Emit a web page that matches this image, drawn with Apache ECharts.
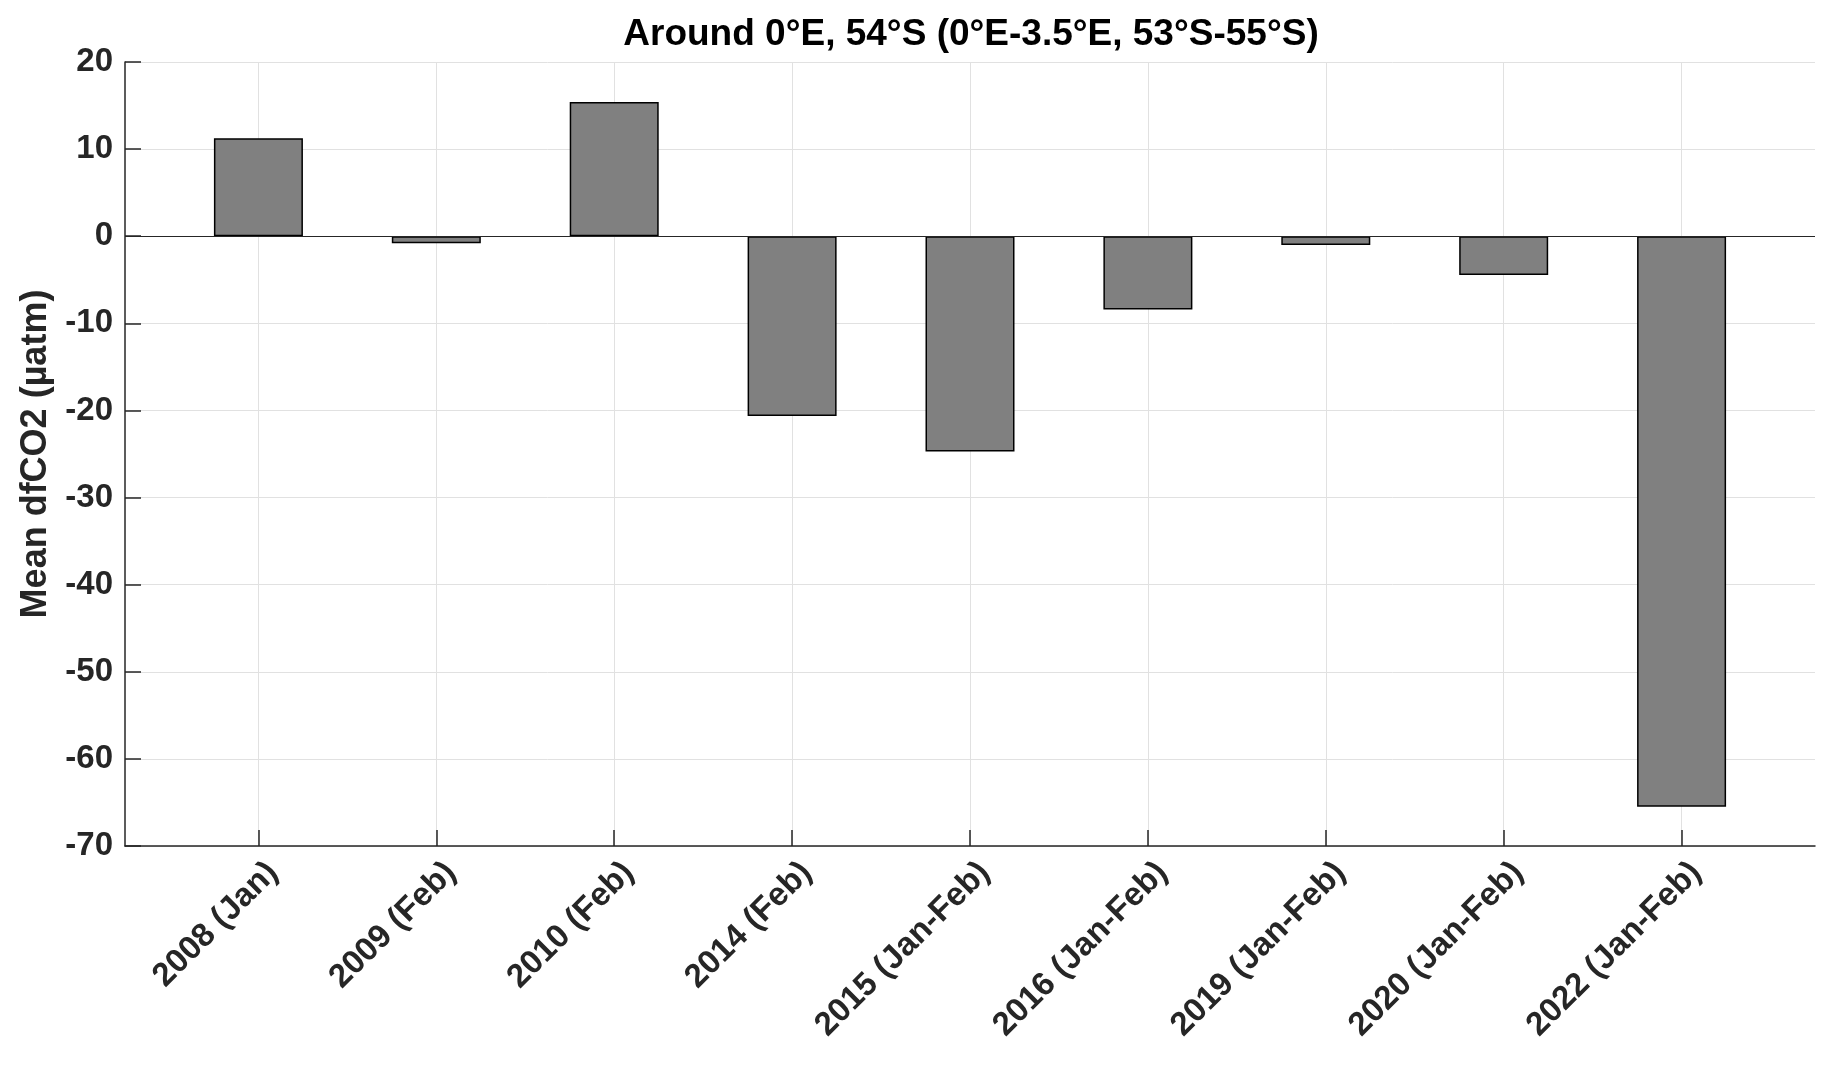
<!DOCTYPE html>
<html>
<head>
<meta charset="utf-8">
<script src="https://cdn.jsdelivr.net/npm/echarts@6/dist/echarts.min.js"></script>
<style>html,body{margin:0;padding:0;background:#fff}#c{width:1836px;height:1068px}</style>
</head>
<body>
<div id="c"></div>
<script>
const categories = ['2008 (Jan)', '2009 (Feb)', '2010 (Feb)', '2014 (Feb)', '2015 (Jan-Feb)', '2016 (Jan-Feb)', '2019 (Jan-Feb)', '2020 (Jan-Feb)', '2022 (Jan-Feb)'];
const values = [11.25, -0.8, 15.4, -20.65, -24.7, -8.4, -1.0, -4.45, -65.5];
const positions = [1, 2, 3, 4, 5, 6, 7, 8, 9];
const titleText = 'Around 0°E, 54°S (0°E-3.5°E, 53°S-55°S)';
const yName = 'Mean dfCO2 (µatm)';

const chart = echarts.init(document.getElementById('c'), null, {renderer: 'canvas'});
const font = 'Liberation Sans, Arial, Helvetica, sans-serif';
const axisColor = '#262626';
const gridColor = '#e1e1e1';

chart.setOption({
  animation: false,
  backgroundColor: '#ffffff',
  title: {
    text: titleText,
    left: 966, top: 11, textAlign: 'center',
    textStyle: {fontFamily: font, fontWeight: 'bold', fontSize: 37, color: '#000'}
  },
  grid: {left: 125, right: 21, top: 62, bottom: 222, containLabel: false},
  xAxis: {
    type: 'value', min: 0.25, max: 9.75,
    axisLine: {show: true, onZero: false, lineStyle: {color: axisColor, width: 1.5}},
    axisTick: {show: true, inside: true, length: 16, customValues: positions, lineStyle: {color: axisColor, width: 1.5}},
    axisLabel: {
      customValues: positions, rotate: 45, margin: 7,
      verticalAlign: 'top', padding: [4, 0, 0, 0],
      formatter: v => categories[Math.round(v) - 1] || '',
      fontFamily: font, fontWeight: 'bold', fontSize: 33, color: axisColor
    },
    splitLine: {show: true, lineStyle: {color: gridColor, width: 1}}
  },
  yAxis: {
    type: 'value', min: -70, max: 20, interval: 10,
    name: yName, nameLocation: 'middle', nameRotate: 90, nameGap: 64,
    nameTextStyle: {fontFamily: font, fontWeight: 'bold', fontSize: 36, color: axisColor},
    axisLine: {show: true, lineStyle: {color: axisColor, width: 1.5}},
    axisTick: {show: true, inside: true, length: 16, lineStyle: {color: axisColor, width: 1.5}},
    axisLabel: {margin: 12, fontFamily: font, fontWeight: 'bold', fontSize: 33, color: axisColor},
    splitLine: {show: true, lineStyle: {color: gridColor, width: 1}}
  },
  series: [{
    type: 'bar',
    data: positions.map((p, i) => [p, values[i]]),
    barWidth: 89,
    itemStyle: {color: '#808080', borderColor: '#000', borderWidth: 1.5},
    markLine: {
      silent: true, symbol: 'none', label: {show: false},
      lineStyle: {color: axisColor, width: 1.2, type: 'solid'},
      data: [{yAxis: 0}]
    }
  }]
});
</script>
</body>
</html>
